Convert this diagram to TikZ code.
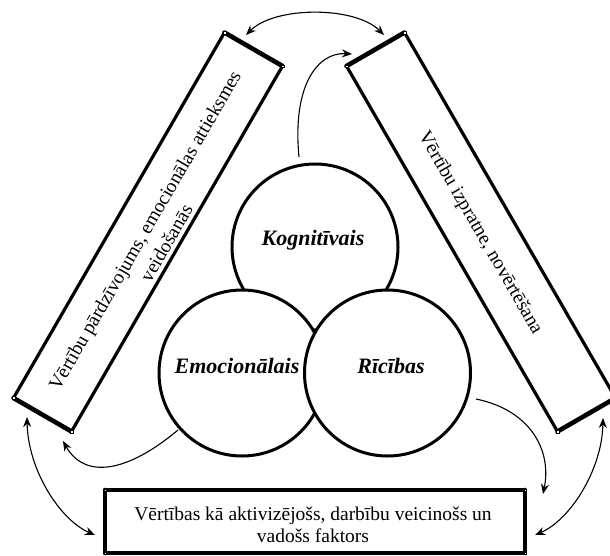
\documentclass[tikz,border=0pt]{standalone}
\usepackage{fontspec}
\setmainfont{Liberation Serif}
\usetikzlibrary{arrows.meta,calc}

\begin{document}
\begin{tikzpicture}[x=1pt,y=-1pt,
  band/.style={minimum width=422pt, minimum height=67pt, inner sep=0pt, outer sep=0pt},
  flatbox/.style={minimum width=420pt, minimum height=63pt, inner sep=0pt, outer sep=0pt},
  longside/.style={line width=3.2pt, line cap=round},
  shortside/.style={line width=4.6pt, line cap=round},
  ring/.style={circle, draw, line width=3pt, fill=white, minimum size=166pt, inner sep=0pt},
  ringlabel/.style={font=\fontsize{22}{24}\selectfont\bfseries\itshape, inner sep=0pt},
  boxtext/.style={font=\fontsize{19.5}{22}\selectfont, align=center, inner sep=0pt},
  widetext/.style={font=\fontsize{19.5}{25}\selectfont, align=center, inner sep=0pt},
  tip/.tip={Stealth[length=10pt,width=8pt]},
  link/.style={line width=1.1pt, -tip},
  twoway/.style={line width=1.1pt, tip-tip},
  cornermark/.style={fill=white, draw=black, line width=0.4pt}
]
\useasboundingbox (0,0) rectangle (610,555);

% three bands framing the circles
\node[band, rotate=60]  (L) at (148,232) {};
\node[band, rotate=-60] (R) at (481,232) {};
\node[flatbox]          (B) at (315,521.5) {};

\foreach \n in {L,R,B}{
  \draw[longside]  (\n.north west) -- (\n.north east) (\n.south west) -- (\n.south east);
  \draw[shortside] (\n.north west) -- (\n.south west) (\n.north east) -- (\n.south east);
  \foreach \c in {north west,north east,south west,south east}
    \draw[cornermark] ($(\n.\c)+(-1.3,-1.3)$) rectangle ($(\n.\c)+(1.3,1.3)$);
}

\node[widetext, rotate=60] (LT) at (155.5,236.5) {Vērtību pārdzīvojums, emocionālas attieksmes\\veidošanās};
\node[boxtext, rotate=-60] (RT) at (480,233) {Vērtību izpratne, novērtēšana};
\node[boxtext]             (BT) at (313,525) {Vērtības kā aktivizējošs, darbību veicinošs un\\vadošs faktors};

% the three circles
\node[ring] (K) at (315,247) {};
\node[ring] (E) at (242,373) {};
\node[ring] (C) at (387.5,373) {};

\node[ringlabel] (KT) at (313,240) {Kognitīvais};
\node[ringlabel] (ET) at (237,365.5) {Emocionālais};
\node[ringlabel] (CT) at (391,365.5) {Rīcības};

% connectors
\coordinate (topL) at (246,35);
\coordinate (topR) at (384,35);
\draw[twoway] (topL) .. controls (275,6) and (355,6) .. (topR);

\coordinate (kOut) at (299,157);
\coordinate (kIn)  at (352,54);
\draw[link] (kOut) .. controls (292,85) and (318,52) .. (kIn);

\coordinate (eOut) at (178,430);
\coordinate (eIn)  at (63,441);
\draw[link] (eOut) .. controls (128,472) and (85,480) .. (eIn);

\coordinate (cOut) at (476,399);
\coordinate (cIn)  at (543,494);
\draw[link] (cOut) .. controls (530,410) and (552,450) .. (cIn);

\coordinate (lUp)  at (27,417);
\coordinate (lLow) at (95,535);
\draw[twoway] (lUp) .. controls (28,470) and (60,520) .. (lLow);

\coordinate (rUp)  at (603,418);
\coordinate (rLow) at (535,535);
\draw[twoway] (rUp) .. controls (602,470) and (570,520) .. (rLow);
\end{tikzpicture}
\end{document}
